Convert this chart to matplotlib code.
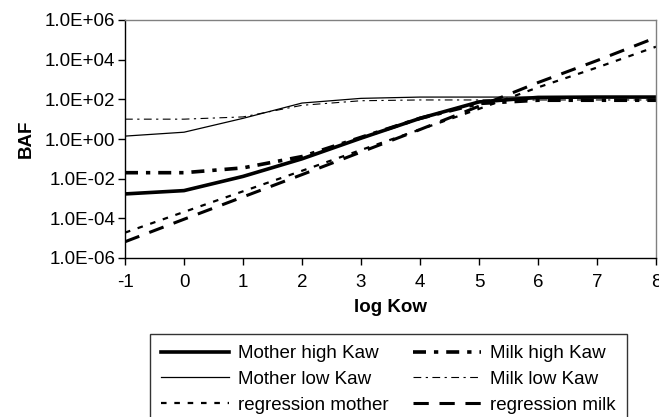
"""BAF vs log Kow for mother and milk, with the regression lines."""

import matplotlib

matplotlib.use("Agg")
import matplotlib.pyplot as plt
from matplotlib.ticker import FixedLocator, FuncFormatter, NullLocator

plt.rcParams["font.family"] = ["Liberation Sans", "DejaVu Sans"]
plt.rcParams["axes.unicode_minus"] = False

LOG_KOW = [-1, 0, 1, 2, 3, 4, 5, 6, 7, 8]

mother_high = [1.7e-3, 2.5e-3, 1.3e-2, 0.1, 1.1, 11, 74, 125, 130, 130]
mother_low = [1.4, 2.2, 11, 65, 112, 130, 130, 130, 130, 130]
reg_mother = [1.9e-5, 2.1e-4, 2.3e-3, 2.5e-2, 0.28, 3.0, 33, 400, 4.0e3, 4.5e4]
milk_high = [0.02, 0.02, 0.035, 0.13, 1.2, 11, 62, 90, 90, 90]
milk_low = [10, 10, 13, 50, 85, 93, 93, 93, 93, 93]
reg_milk = [6.6e-6, 9e-5, 1.2e-3, 1.6e-2, 0.22, 3.0, 45, 7.0e2, 9.0e3, 1.3e5]

Y_TICKS = [1e-6, 1e-4, 1e-2, 1e0, 1e2, 1e4, 1e6]

FS = 13.5

fig = plt.figure(figsize=(6.59, 4.17), dpi=100)
ax = fig.add_axes([125 / 659, 1 - 258 / 417, 531 / 659, 238 / 417])

ax.plot(LOG_KOW, mother_high, color="black", lw=2.6, label="Mother high Kaw")
ax.plot(LOG_KOW, mother_low, color="black", lw=0.9, label="Mother low Kaw")
ax.plot(LOG_KOW, reg_mother, color="black", lw=1.6, dashes=(2.5, 3.5),
        label="regression mother")
ax.plot(LOG_KOW, milk_high, color="black", lw=2.6, dashes=(3.6, 2.2, 1.2, 2.2),
        label="Milk high Kaw")
ax.plot(LOG_KOW, milk_low, color="black", lw=0.8, dashes=(7, 4, 2, 4),
        label="Milk low Kaw")
ax.plot(LOG_KOW, reg_milk, color="black", lw=2.2, dashes=(5, 3.5),
        label="regression milk")

ax.set_yscale("log")
ax.set_xlim(-1, 8)
ax.set_ylim(1e-6, 1e6)
ax.yaxis.set_major_locator(FixedLocator(Y_TICKS))
ax.yaxis.set_minor_locator(NullLocator())
ax.yaxis.set_major_formatter(FuncFormatter(lambda v, _: f"{v:.1E}"))
ax.set_xticks(LOG_KOW)
ax.tick_params(labelsize=FS, length=5, width=1, color="black", pad=2)
ax.tick_params(axis="x", pad=6.5)

for side in ("top", "right"):
    ax.spines[side].set_color("#808080")
    ax.spines[side].set_linewidth(1)
for side in ("left", "bottom"):
    ax.spines[side].set_color("black")
    ax.spines[side].set_linewidth(1)

ax.set_xlabel("log Kow", fontsize=FS, fontweight="bold", labelpad=6)
ax.set_ylabel("BAF", fontsize=FS, fontweight="bold", labelpad=7)

leg = fig.legend(
    loc="upper left",
    bbox_to_anchor=(150 / 659, 1 - 334 / 417),
    bbox_transform=fig.transFigure,
    ncol=2,
    fontsize=FS,
    frameon=True,
    fancybox=False,
    edgecolor="black",
    handlelength=3.6,
    handletextpad=0.5,
    columnspacing=1.3,
    labelspacing=0.45,
    borderpad=0.6,
    borderaxespad=0,
)
leg.get_frame().set_linewidth(1)

fig.savefig("out.png", dpi=100)
